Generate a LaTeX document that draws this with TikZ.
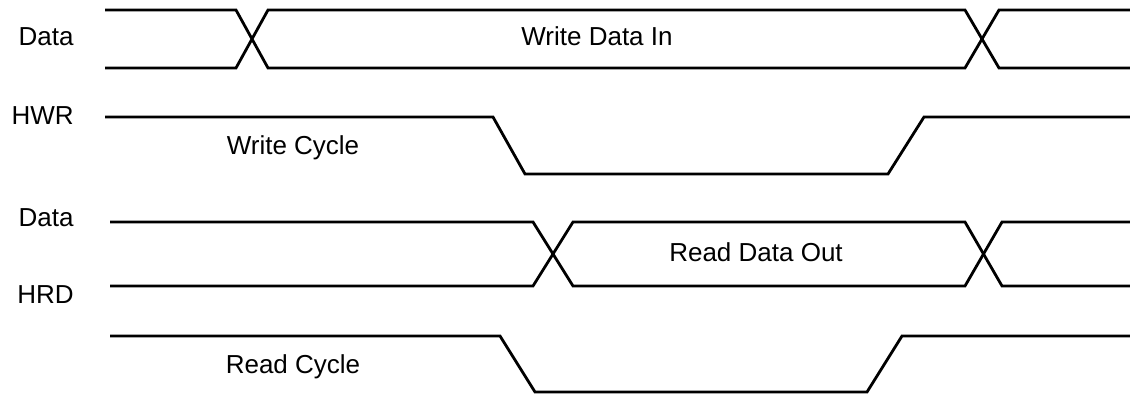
\documentclass[tikz,border=0pt]{standalone}
\usepackage{fontspec}
\setmainfont{Liberation Sans}
\usetikzlibrary{positioning}

\begin{document}
\begin{tikzpicture}[x=0.5pt,y=-0.5pt,line width=1.4pt,line join=miter,
  sig label/.style={anchor=base east,inner sep=0pt,font=\fontsize{13}{15}\selectfont},
  wave text/.style={anchor=base,inner sep=0pt,font=\fontsize{13}{15}\selectfont}]
  \useasboundingbox (0,0) rectangle (1130,394);

  \node[sig label] (wdata) at (75,46) {Data};
  \node[sig label] (hwr) at (75,125) {HWR};
  \node[sig label] (rdata) at (75,227) {Data};
  \node[sig label] (hrd) at (75,304) {HRD};

  \node[wave text] (wdatain) at (597,46) {Write Data In};
  \node[wave text] (wcycle) at (293,155) {Write Cycle};
  \node[wave text] (rdataout) at (756,262) {Read Data Out};
  \node[wave text] (rcycle) at (293,374) {Read Cycle};

  \draw (105,10) -- (236,10) -- (268,68) -- (965,68) -- (999,10) -- (1130,10);
  \draw (105,68) -- (236,68) -- (268,10) -- (965,10) -- (999,68) -- (1130,68);
  \draw (105,117) -- (493,117) -- (525,174) -- (888,174) -- (924,117) -- (1130,117);

  \draw (110,222) -- (533,222) -- (573,286) -- (965,286) -- (1002,222) -- (1130,222);
  \draw (110,286) -- (533,286) -- (573,222) -- (965,222) -- (1002,286) -- (1130,286);
  \draw (110,336) -- (500,336) -- (535,392) -- (867,392) -- (902,336) -- (1130,336);
\end{tikzpicture}
\end{document}
